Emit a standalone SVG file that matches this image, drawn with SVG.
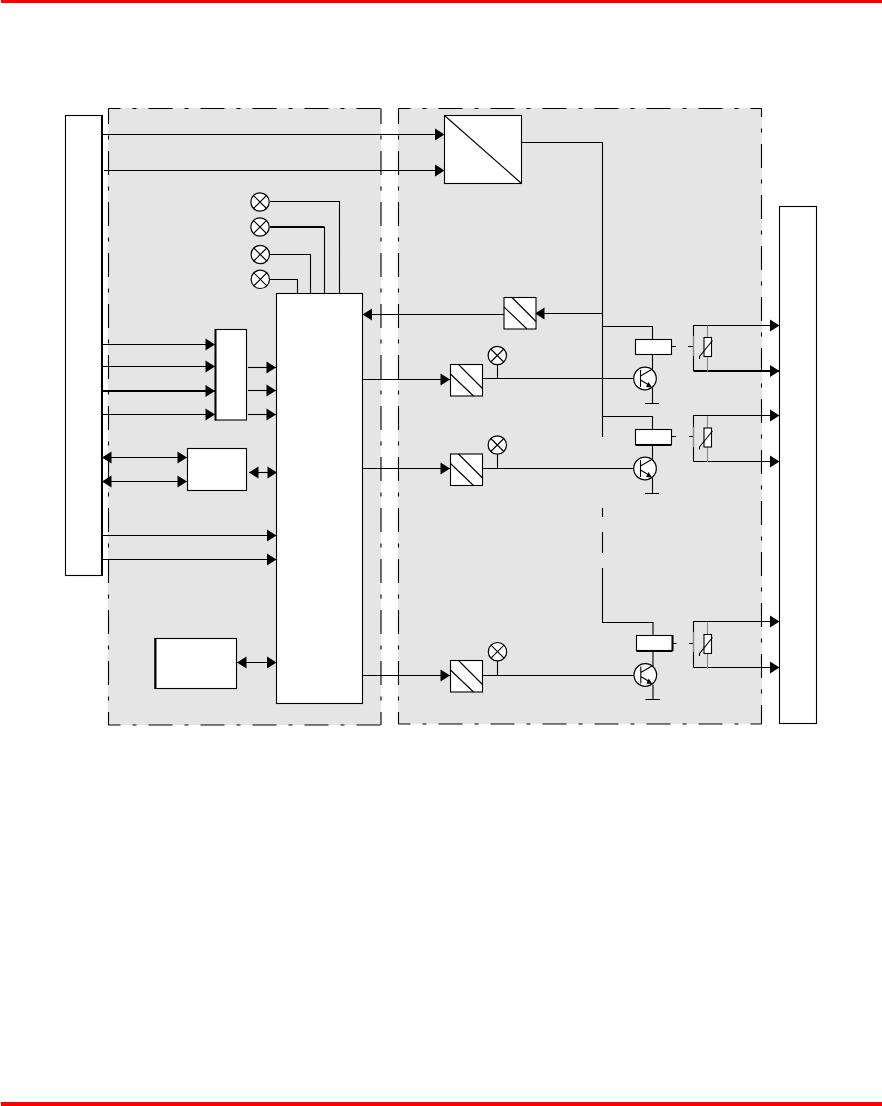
<svg xmlns="http://www.w3.org/2000/svg" width="882" height="1106" viewBox="0 0 882 1106">
<style>
.w{fill:none;stroke:#000;stroke-width:1.1}
.t{fill:none;stroke:#000;stroke-width:2}
.g{fill:none;stroke:#888;stroke-width:1.1}
.b{fill:#fff;stroke:#000;stroke-width:1.1}
.a{marker-end:url(#ah)}
.d{marker-start:url(#ah);marker-end:url(#ah)}
.pf{fill:#e5e5e5}
.ds{fill:none;stroke:#000;stroke-width:1.1;stroke-dasharray:24 12 4 12;stroke-dashoffset:12}
.dv{fill:none;stroke:#000;stroke-width:1.1;stroke-dasharray:24 11.500 4 11.500;stroke-dashoffset:8.500}
.l{fill:#fff;stroke:#000;stroke-width:1.2}
</style>
<defs>
<marker id="ah" markerUnits="userSpaceOnUse" markerWidth="11" markerHeight="13" refX="10.5" refY="6.5" orient="auto-start-reverse"><path d="M1 0.5L10.5 6.5L1 12.5Z" fill="#000"/></marker>
<g id="lamp"><circle r="9.2" class="l"/><path d="M-6.5-6.5L6.500 6.500M-6.5 6.500L6.500-6.5" class="w"/></g>
<g id="tr"><circle r="11.3" class="l"/><path d="M-4.5-8.5V8.500M-4.5-2.5L7.500-9.5M-4.5 1.500L3 6" class="w"/><path d="M7 9L1 8.500L3.500 3.500Z" fill="#000"/></g>
<g id="vr"><path d="M0-12V34" class="g"/><rect x="-3.5" y="0" width="7.5" height="19" class="b"/><path d="M-8 19L5 3M-8 19V21.500" class="w"/></g>
<g id="sb"><rect width="32" height="31.500" class="b"/><path d="M0 9.500L23 31.500M8 0L32 24" class="w"/></g>
</defs>
<rect id="top-rule" x="1" y="0" width="881" height="3" fill="#f00"/>
<rect id="bottom-rule" x="1" y="1102" width="881" height="4" fill="#f00"/>
<g id="panel-left"><rect class="pf" x="108" y="108" width="273" height="617"/><path class="ds" d="M108.500 108.500H381M108.500 725H381"/><path class="dv" d="M108.500 108.500V725M381 108.500V725"/></g>
<g id="panel-right"><rect class="pf" x="398" y="108" width="364" height="616"/><path class="ds" d="M398.500 108.500H761.500M398.500 724H761.500"/><path class="dv" d="M398.500 108.500V724"/><path class="dv" style="stroke-dashoffset:15.500" d="M761.500 108.500V724"/></g>
<g id="connectors">
<path class="w a" d="M103 134.500H444.500"/><path class="w a" d="M104 170.500H444.500"/>
<path class="w" d="M270 201.500H339.500V293M270 254.500H310.500V293M270 279.500H297.500V293"/>
<path class="w" d="M324.500 227V293"/><path class="t" d="M270 227H324.500"/>
<path class="w a" d="M103 344.500H215"/><path class="w a" d="M103 366.500H215"/><path class="t a" d="M103 391H215"/><path class="w a" d="M103 414.500H215"/>
<path class="w a" d="M248 367.500H276"/><path class="w a" d="M248 390.500H276"/><path class="w a" d="M248 414.500H276"/>
<path class="w d" d="M102 457.500H187"/><path class="w d" d="M102 481.500H187"/><path class="w d" d="M249 472.500H277"/>
<path class="w a" d="M103 535.500H276.500"/><path class="w a" d="M103 559.500H276.500"/>
<path class="w d" d="M237 662.500H276.500"/>
<path class="w a" d="M363 379.500H450"/><path class="w a" d="M363 468.500H450"/><path class="w a" d="M363 675.500H450"/>
<path class="w a" d="M505 314.500H362.500"/>
<path class="w a" d="M603 313.500H535"/>
<path class="w" d="M522 142.500H602.500V437M602.500 508V517M602.500 532V553M602.500 568V622.500H653V635M603 326.500H652.500V340M603 416.500H652.500V430"/>
<path class="w" d="M482 378.500H634M497.500 364V378.500M482 468.500H634M497.500 454V468.500M482 675.500H634M497.500 661V675.500"/>
<path class="w" d="M652.500 355V369M652.500 388V403.500M645 403.500H659"/>
<path class="w" d="M652.500 445V459M652.500 478V493.500M645 493.500H659"/>
<path class="w" d="M653 651V666M653 685V699.500M645.500 699.500H660"/>
<path class="w" d="M672 346.500H676M688 346.500H694M672 436.500H676M689 436.500H694M673 643.500H676.500M689 643.500H694"/>
<path class="w a" d="M693.500 371V325.500H779.500"/><path class="t a" d="M693.500 371H779.500"/>
<path class="w a" d="M693.500 461.500V415.500H779.500"/><path class="w a" d="M693.500 461.500H779.500"/>
<path class="w a" d="M693.500 667.500V621.500H779.500"/><path class="w a" d="M693.500 667.500H779.500"/>
</g>
<g id="bus-left"><rect x="65.500" y="115.500" width="36" height="460" class="b"/><path class="t" d="M102 115V576"/></g>
<g id="bus-right"><rect x="779.500" y="206.500" width="37" height="517" class="b"/></g>
<g id="converter"><rect x="444.500" y="115.500" width="77" height="68" class="b"/><path class="w" d="M444.500 115.500L521.500 183.500"/></g>
<g id="lamp-1"><use href="#lamp" x="260" y="202"/></g>
<g id="lamp-2"><use href="#lamp" x="260" y="227"/></g>
<g id="lamp-3"><use href="#lamp" x="260.300" y="254.500"/></g>
<g id="lamp-4"><use href="#lamp" x="260.300" y="279.300"/></g>
<g id="controller"><rect x="276.500" y="293.500" width="86" height="410" class="b"/></g>
<g id="mux"><rect x="215.500" y="329.500" width="31" height="90.500" class="b"/><path class="t" d="M215.500 329V420.500"/></g>
<g id="iface"><rect x="187.500" y="448.500" width="59" height="42" class="b"/></g>
<g id="memory"><rect x="155" y="638.500" width="81.500" height="50" class="b"/><path class="t" d="M155.500 638V689"/></g>
<g id="iso-fb"><use href="#sb" x="504" y="297.500"/></g>
<g id="iso-1"><use href="#sb" x="450.500" y="364.500"/></g>
<g id="iso-2"><use href="#sb" x="450.500" y="454"/></g>
<g id="iso-3"><use href="#sb" x="450.500" y="660.500"/></g>
<g id="lamp-o1"><use href="#lamp" x="497.300" y="355.500"/></g>
<g id="lamp-o2"><use href="#lamp" x="497.300" y="445"/></g>
<g id="lamp-o3"><use href="#lamp" x="497.500" y="651.700"/></g>
<g id="relay-1"><rect x="635.500" y="339.500" width="36" height="15" class="b"/></g>
<g id="relay-2"><rect x="635.500" y="429.500" width="36" height="15" class="b"/><path class="t" d="M635.500 445H671.500"/></g>
<g id="relay-3"><rect x="636.500" y="635.500" width="36" height="15" class="b"/><path class="t" d="M636.500 651H672.500M672.500 635V651"/></g>
<g id="transistor-1"><use href="#tr" x="645" y="378.500"/></g>
<g id="transistor-2"><use href="#tr" x="645" y="468.500"/></g>
<g id="transistor-3"><use href="#tr" x="645.300" y="675"/></g>
<g id="contact-1"><path class="g" d="M693.500 336V356"/><use href="#vr" x="707.500" y="337.500"/></g>
<g id="contact-2"><path class="g" d="M693.500 427V447"/><use href="#vr" x="707.500" y="428"/></g>
<g id="contact-3"><path class="g" d="M693.500 632V652"/><use href="#vr" x="707.500" y="634.500"/></g>
</svg>
